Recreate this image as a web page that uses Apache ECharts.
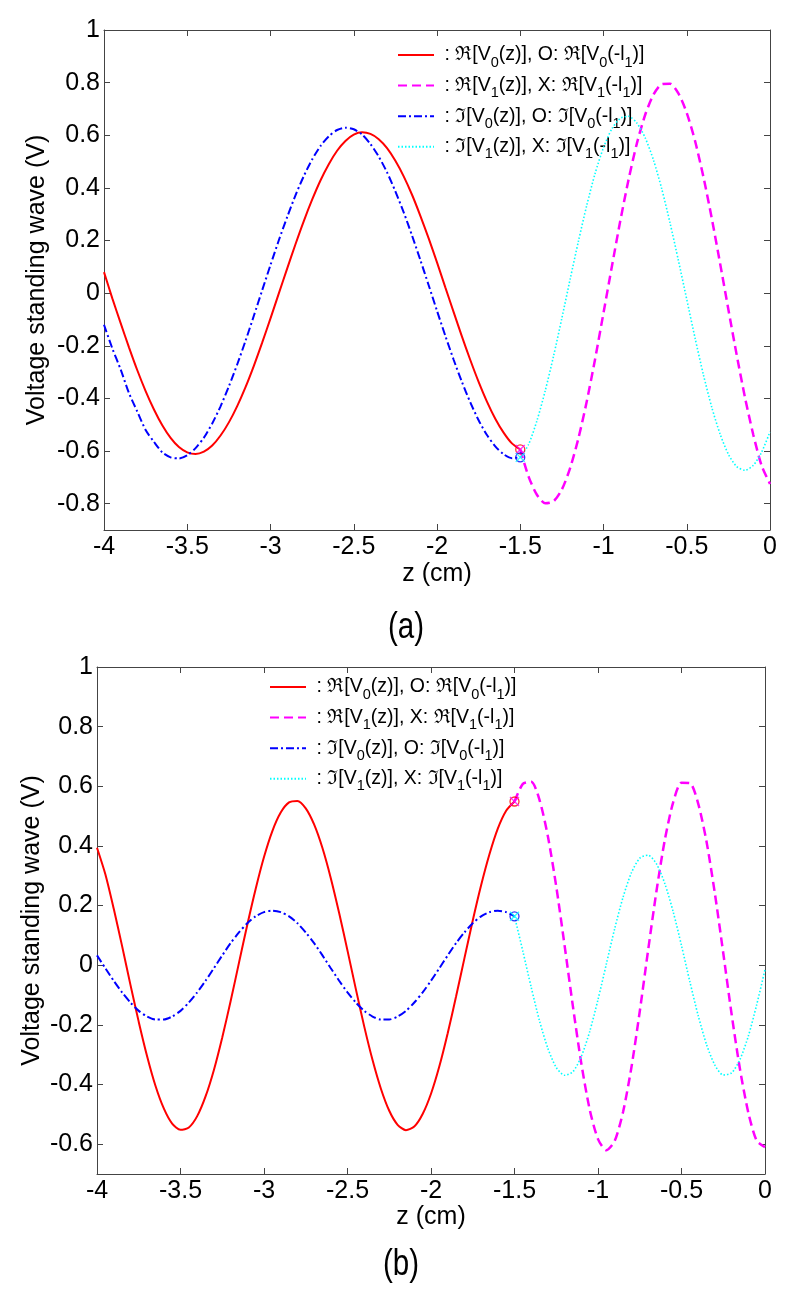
<!DOCTYPE html>
<html>
<head>
<meta charset="utf-8">
<script src="https://cdn.jsdelivr.net/npm/echarts@6.0.0/dist/echarts.min.js"></script>
<style>
  html, body { margin: 0; padding: 0; background: #fff; }
  #main { width: 800px; height: 1293px; }
</style>
</head>
<body>
<div id="main"></div>
<script>
// ---- data ----
// z for the section -4 .. -1.5 (both panels)
const z0 = [-4.0, -3.95, -3.9, -3.85, -3.8, -3.75, -3.7, -3.65, -3.6, -3.55, -3.5, -3.45,
  -3.4, -3.35, -3.3, -3.25, -3.2, -3.15, -3.1, -3.05, -3.0, -2.95, -2.9, -2.85, -2.8, -2.75,
  -2.7, -2.65, -2.6, -2.55, -2.5, -2.45, -2.4, -2.35, -2.3, -2.25, -2.2, -2.15, -2.1, -2.05,
  -2.0, -1.95, -1.9, -1.85, -1.8, -1.75, -1.7, -1.65, -1.6, -1.55, -1.5];
// z for the section -1.5 .. 0 (both panels)
const z1 = [-1.5, -1.45, -1.4, -1.35, -1.3, -1.25, -1.2, -1.15, -1.1, -1.05, -1.0, -0.95,
  -0.9, -0.85, -0.8, -0.75, -0.7, -0.65, -0.6, -0.55, -0.5, -0.45, -0.4, -0.35, -0.3,
  -0.25, -0.2, -0.15, -0.1, -0.05, 0];

// panel (a)
const reV0a = [0.08, -0.02, -0.114, -0.206, -0.293, -0.372, -0.442, -0.502, -0.55, -0.585,
  -0.605, -0.611, -0.602, -0.579, -0.541, -0.491, -0.429, -0.357, -0.276, -0.188, -0.096,
  -0.001, 0.093, 0.186, 0.274, 0.355, 0.428, 0.49, 0.541, 0.578, 0.602, 0.611, 0.605, 0.585,
  0.551, 0.503, 0.444, 0.374, 0.294, 0.208, 0.117, 0.022, -0.072, -0.165, -0.254, -0.337,
  -0.412, -0.477, -0.53, -0.571, -0.594];
const imV0a = [-0.12, -0.21, -0.29, -0.38, -0.45, -0.52, -0.565, -0.605, -0.624, -0.628,
  -0.616, -0.589, -0.549, -0.495, -0.43, -0.354, -0.271, -0.181, -0.086, 0.011, 0.107, 0.201,
  0.289, 0.372, 0.445, 0.508, 0.559, 0.596, 0.62, 0.629, 0.623, 0.603, 0.567, 0.519, 0.459,
  0.387, 0.307, 0.219, 0.126, 0.03, -0.067, -0.162, -0.253, -0.338, -0.415, -0.483, -0.539,
  -0.582, -0.612, -0.627, -0.624];
const reV1a = [-0.594, -0.697, -0.766, -0.798, -0.791, -0.746, -0.664, -0.55, -0.41, -0.249,
  -0.075, 0.1, 0.272, 0.43, 0.568, 0.677, 0.754, 0.794, 0.796, 0.759, 0.685, 0.578, 0.442,
  0.285, 0.114, -0.062, -0.235, -0.397, -0.539, -0.656, -0.725];
const imV1a = [-0.624, -0.575, -0.485, -0.371, -0.239, -0.095, 0.054, 0.199, 0.335, 0.456,
  0.553, 0.624, 0.664, 0.672, 0.647, 0.591, 0.506, 0.396, 0.266, 0.124, -0.024, -0.171,
  -0.31, -0.433, -0.535, -0.612, -0.659, -0.673, -0.654, -0.604, -0.527];

// panel (b)
const reV0b = [0.394, 0.305, 0.19, 0.065, -0.065, -0.19, -0.305, -0.404, -0.48, -0.531,
  -0.552, -0.544, -0.506, -0.44, -0.351, -0.242, -0.121, 0.008, 0.136, 0.256, 0.363, 0.45,
  0.512, 0.546, 0.551, 0.526, 0.472, 0.393, 0.292, 0.175, 0.049, -0.08, -0.205, -0.318,
  -0.414, -0.488, -0.535, -0.553, -0.541, -0.499, -0.431, -0.339, -0.228, -0.105, 0.023,
  0.15, 0.268, 0.372, 0.458, 0.518, 0.549];
const imV0b = [0.033, -0.01, -0.052, -0.091, -0.125, -0.153, -0.172, -0.182, -0.182, -0.172,
  -0.153, -0.125, -0.091, -0.052, -0.01, 0.033, 0.074, 0.11, 0.141, 0.164, 0.178, 0.183,
  0.178, 0.164, 0.141, 0.11, 0.074, 0.033, -0.01, -0.052, -0.091, -0.125, -0.153, -0.172,
  -0.182, -0.182, -0.172, -0.153, -0.125, -0.091, -0.052, -0.01, 0.033, 0.074, 0.11, 0.141,
  0.164, 0.178, 0.183, 0.178, 0.164];
const reV1b = [0.549, 0.608, 0.615, 0.554, 0.432, 0.264, 0.066, -0.139, -0.329, -0.483,
  -0.583, -0.62, -0.589, -0.492, -0.343, -0.155, 0.05, 0.248, 0.42, 0.546, 0.612, 0.611,
  0.542, 0.414, 0.24, 0.041, -0.164, -0.348, -0.494, -0.588, -0.61];
const imV1b = [0.164, 0.047, -0.074, -0.187, -0.279, -0.343, -0.369, -0.357, -0.306, -0.223,
  -0.115, 0.004, 0.123, 0.228, 0.31, 0.359, 0.369, 0.34, 0.274, 0.18, 0.066, -0.055, -0.169,
  -0.266, -0.335, -0.368, -0.361, -0.316, -0.238, -0.133, -0.015];

// markers at z = -l1
const zL1 = -1.5;
const markA = { re0: -0.594, re1: -0.594, im0: -0.624, im1: -0.624 };
const markB = { re0: 0.549, re1: 0.549, im0: 0.164, im1: 0.164 };

const yTicksA = [-0.8, -0.6, -0.4, -0.2, 0, 0.2, 0.4, 0.6, 0.8, 1];
const yTicksB = [-0.6, -0.4, -0.2, 0, 0.2, 0.4, 0.6, 0.8, 1];

const legendText = [
  '{t| : ℜ[V}{s|0}{t|(z)], O: ℜ[V}{s|0}{t|(-l}{s|1}{t|)]}',
  '{t| : ℜ[V}{s|1}{t|(z)], X: ℜ[V}{s|1}{t|(-l}{s|1}{t|)]}',
  '{t| : ℑ[V}{s|0}{t|(z)], O: ℑ[V}{s|0}{t|(-l}{s|1}{t|)]}',
  '{t| : ℑ[V}{s|1}{t|(z)], X: ℑ[V}{s|1}{t|(-l}{s|1}{t|)]}'
];

// ---- chart ----
const FONT = "'Liberation Sans', Arial, sans-serif";
const AXIS = '#444';
const myChart = echarts.init(document.getElementById('main'));

const styles = [
  { color: '#ff0000', width: 2, type: 'solid' },
  { color: '#ff00ff', width: 2.5, type: [9, 5] },
  { color: '#0000ff', width: 2, type: [8, 3, 2, 3] },
  { color: '#00ffff', width: 1.6, type: [1.5, 2] }
];

function pairs(xs, ys) {
  return xs.map((x, i) => [x, ys[i]]);
}

function xAxes(gi, nameGap) {
  return [
    {
      type: 'value', gridIndex: gi, min: -4, max: 0, interval: 0.5, position: 'bottom',
      axisLine: { show: true, onZero: false, lineStyle: { color: AXIS, width: 1 } },
      axisTick: { inside: true, length: 6, lineStyle: { color: AXIS } },
      axisLabel: { color: '#000', fontSize: 25, fontFamily: FONT, margin: 5,
        showMinLabel: true, showMaxLabel: true },
      splitLine: { show: false },
      name: 'z (cm)', nameLocation: 'middle', nameGap: nameGap,
      nameTextStyle: { color: '#000', fontSize: 25, fontFamily: FONT }
    },
    {
      type: 'value', gridIndex: gi, min: -4, max: 0, interval: 0.5, position: 'top',
      axisLine: { show: true, onZero: false, lineStyle: { color: AXIS, width: 1 } },
      axisTick: { inside: true, length: 6, lineStyle: { color: AXIS } },
      axisLabel: { show: false },
      splitLine: { show: false }
    }
  ];
}

function yAxes(gi, ymin, ticks, nameGap) {
  return [
    {
      type: 'value', gridIndex: gi, min: ymin, max: 1, position: 'left',
      axisLine: { show: true, onZero: false, lineStyle: { color: AXIS, width: 1 } },
      axisTick: { inside: true, length: 6, customValues: ticks, lineStyle: { color: AXIS } },
      axisLabel: { customValues: ticks, color: '#000', fontSize: 25, fontFamily: FONT, margin: 4 },
      splitLine: { show: false },
      name: 'Voltage standing wave (V)', nameLocation: 'middle', nameGap: nameGap,
      nameMoveOverlap: false,
      nameTextStyle: { color: '#000', fontSize: 25, fontFamily: FONT }
    },
    {
      type: 'value', gridIndex: gi, min: ymin, max: 1, position: 'right',
      axisLine: { show: true, onZero: false, lineStyle: { color: AXIS, width: 1 } },
      axisTick: { inside: true, length: 6, customValues: ticks, lineStyle: { color: AXIS } },
      axisLabel: { show: false },
      splitLine: { show: false }
    }
  ];
}

function lines(prefix, xi, yi, sets) {
  return sets.map((s, k) => ({
    name: prefix + k,
    type: 'line',
    xAxisIndex: xi, yAxisIndex: yi,
    data: pairs(s[0], s[1]),
    smooth: 0.25,
    symbol: 'none',
    lineStyle: styles[k],
    itemStyle: { color: styles[k].color },
    z: 2 + k
  }));
}

const XSYM = 'path://M0,0L10,10M10,0L0,10';
function marks(xi, yi, m) {
  const mk = (v, sym, color) => ({
    type: 'scatter', xAxisIndex: xi, yAxisIndex: yi,
    data: [[zL1, v]], symbol: sym, symbolSize: 9, z: 10,
    itemStyle: { color: 'none', borderColor: color, borderWidth: 1.3 }
  });
  return [
    mk(m.re0, 'circle', '#ff0000'),
    mk(m.re1, XSYM, '#ff00ff'),
    mk(m.im0, 'circle', '#0000ff'),
    mk(m.im1, XSYM, '#00ffff')
  ];
}

function legend(prefix, left, top) {
  return {
    data: [0, 1, 2, 3].map(k => prefix + k),
    orient: 'vertical', left: left, top: top,
    itemWidth: 36, itemHeight: 14, itemGap: 0.6,
    itemStyle: { opacity: 0 },
    formatter: n => legendText[+n.slice(1)],
    textStyle: {
      color: '#000', fontFamily: FONT, fontSize: 19.5,
      rich: {
        t: { fontSize: 19.5, fontFamily: FONT, color: '#000', lineHeight: 20, verticalAlign: 'middle' },
        s: { fontSize: 14.5, fontFamily: FONT, color: '#000', lineHeight: 20, padding: [15, 0, 0, 0], verticalAlign: 'middle' }
      }
    }
  };
}

function title(text, x, y) {
  return {
    type: 'text', x: x, y: y, scaleX: 0.82,
    style: { text: text, font: '36px ' + FONT, fill: '#000', align: 'center', verticalAlign: 'middle' }
  };
}

myChart.setOption({
  animation: false,
  backgroundColor: '#fff',
  grid: [
    { left: 104, top: 30, width: 666, height: 500 },
    { left: 97, top: 667, width: 668, height: 507 }
  ],
  xAxis: [...xAxes(0, 32), ...xAxes(1, 27)],
  yAxis: [...yAxes(0, -0.9, yTicksA, 54), ...yAxes(1, -0.7, yTicksB, 52)],
  legend: [legend('a', 392, 35), legend('b', 264, 667)],
  graphic: [title('(a)', 406, 628), title('(b)', 401, 1265)],
  series: [
    ...lines('a', 0, 0, [[z0, reV0a], [z1, reV1a], [z0, imV0a], [z1, imV1a]]),
    ...marks(0, 0, markA),
    ...lines('b', 2, 2, [[z0, reV0b], [z1, reV1b], [z0, imV0b], [z1, imV1b]]),
    ...marks(2, 2, markB)
  ]
});
</script>
</body>
</html>
